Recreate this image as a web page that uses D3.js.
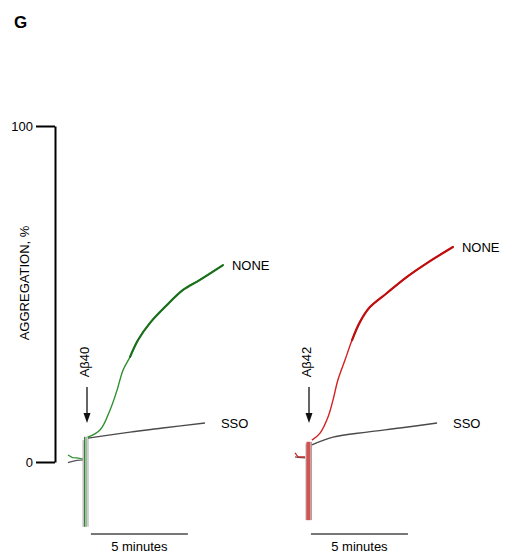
<!DOCTYPE html>
<html>
<head>
<meta charset="utf-8">
<script src="https://cdn.jsdelivr.net/npm/d3@7"></script>
<style>
  body { margin: 0; background: #fff; }
  text { font-family: "Liberation Sans", Arial, sans-serif; }
</style>
</head>
<body>
<script>
// Y axis ticks
const yTicks = [0, 100]

// A-beta 40 panel (time in minutes, 0 = injection; aggregation %)
const a40PreT = [-0.98, -0.75, -0.52, -0.21]
const a40PreNone = [2.1, 1.3, 1.2, 0.9]
const a40PreSso = [-0.2, 0.2, 0.5, 0.6]
const a40SpikeT = [-0.2, -0.13, -0.05, 0.05]
const a40SpikeTop = [6.5, 7.5, 7.5, 7.8]
const a40SpikeLow = [-19.3, -19.3, -19.3, -19.3]
const a40NoneT = [0.05, 0.67, 1.19, 1.55, 1.86, 2.22, 2.63, 3.25, 4.12, 4.95, 5.82, 7.01]
const a40NoneV = [7.4, 9.5, 15.5, 21.4, 27.4, 31.3, 36.3, 41.4, 46.7, 51.2, 54.2, 58.6]
const a40SsoT = [0.05, 2.22, 3.9, 6.08]
const a40SsoV = [7.1, 8.9, 10.1, 11.6]

// A-beta 42 panel
const a42PreT = [-0.72, -0.57, -0.2]
const a42PreNone = [2.7, 1.5, 1.5]
const a42PreSso = [1.5, 1.4, 1.2]
const a42SpikeT = [-0.15, -0.1, -0.05, 0, 0.05, 0.13]
const a42SpikeTop = [5.5, 6.0, 6.0, 6.0, 6.0, 6.0]
const a42SpikeLow = [-17.3, -17.3, -17.3, -17.3, -17.3, -17.3]
const a42NoneT = [0.15, 0.57, 0.98, 1.24, 1.49, 1.86, 2.22, 2.63, 3.14, 4.02, 5.05, 6.08, 7.42]
const a42NoneV = [6.5, 8.6, 13.4, 18.5, 24.4, 30.4, 36.3, 41.7, 46.1, 50.3, 55.1, 59.2, 64.0]
const a42SsoT = [0.15, 1.24, 2.99, 4.69, 6.6]
const a42SsoV = [5.1, 7.4, 8.9, 10.1, 11.6]

const svg = d3.select("body").append("svg")
    .attr("width", 512)
    .attr("height", 554)

svg.append("text")
    .attr("x", 14).attr("y", 28)
    .attr("font-size", 17).attr("font-weight", "bold")
    .text("G")

const yScale = d3.scaleLinear().domain([0, 100]).range([462, 126])

//Y axis
const yAxis = d3.axisLeft(yScale).tickValues(yTicks).tickSize(19).tickSizeOuter(0).tickPadding(3)
const gy = svg.append("g").attr("transform", "translate(55,0)").call(yAxis)
gy.select(".domain").attr("stroke-width", 2)
gy.selectAll(".tick line").attr("stroke-width", 2)
gy.selectAll(".tick text").attr("font-size", 13).attr("fill", "#000")
gy.attr("font-family", null)

svg.append("text")
    .attr("transform", "translate(29,283) rotate(-90)")
    .attr("text-anchor", "middle")
    .attr("font-size", 13)
    .text("AGGREGATION, %")

function panel(opt) {
    const x = d3.scaleLinear().domain([0, 5]).range([opt.x0, opt.x0 + 97])
    const g = svg.append("g")
    const line = d3.line().x(d => x(d[0])).y(d => yScale(d[1]))
    const smooth = d3.line().x(d => x(d[0])).y(d => yScale(d[1])).curve(d3.curveCatmullRom.alpha(0.5))

    // pre-injection baselines
    g.append("path").datum(d3.zip(opt.preT, opt.preSso))
        .attr("d", line).attr("fill", "none").attr("stroke", "#555").attr("stroke-width", 1.2)
    g.append("path").datum(d3.zip(opt.preT, opt.preNone))
        .attr("d", line).attr("fill", "none").attr("stroke", opt.light).attr("stroke-width", 1.2)

    // injection spikes
    opt.spikeT.forEach((t, i) => {
        const grey = i == 0 || i == opt.spikeT.length - 1
        g.append("line")
            .attr("x1", x(t)).attr("x2", x(t))
            .attr("y1", yScale(opt.spikeTop[i])).attr("y2", yScale(opt.spikeLow[i]))
            .attr("stroke", grey ? "#999" : opt.color)
            .attr("stroke-width", 0.9)
    })

    // SSO trace
    g.append("path").datum(d3.zip(opt.ssoT, opt.ssoV))
        .attr("d", smooth).attr("fill", "none")
        .attr("stroke", "#4a4a4a").attr("stroke-width", 1.4)
    // NONE trace: thin during the rise, noisier (thicker) once it bends over
    const none = d3.zip(opt.noneT, opt.noneV)
    g.append("path").datum(none)
        .attr("d", smooth).attr("fill", "none")
        .attr("stroke", opt.light).attr("stroke-width", 1.4)
    g.append("path").datum(none.slice(opt.thickFrom))
        .attr("d", smooth).attr("fill", "none")
        .attr("stroke", opt.color).attr("stroke-width", 2.2)
        .attr("stroke-linecap", "round")

    // series labels
    const lastN = opt.noneT.length - 1
    g.append("text")
        .attr("x", x(opt.noneT[lastN]) + 9).attr("y", yScale(opt.noneV[lastN]) + 5)
        .attr("font-size", 13).text("NONE")
    const lastS = opt.ssoT.length - 1
    g.append("text")
        .attr("x", x(opt.ssoT[lastS]) + 16).attr("y", yScale(opt.ssoV[lastS]) + 5)
        .attr("font-size", 13).text("SSO")

    // arrow + peptide label
    const ax = x(0)
    g.append("line").attr("x1", ax).attr("x2", ax).attr("y1", 387).attr("y2", 414)
        .attr("stroke", "#111").attr("stroke-width", 1.3)
    g.append("path")
        .attr("d", `M${ax - 3.5},413 L${ax + 3.5},413 L${ax},423 Z`).attr("fill", "#111")
    g.append("text")
        .attr("transform", `translate(${ax + 2},362) rotate(-90)`)
        .attr("text-anchor", "middle")
        .attr("font-size", 13).text(opt.label)

    // 5 minute scale bar
    g.append("line")
        .attr("x1", x(opt.barStart)).attr("x2", x(opt.barStart + 5))
        .attr("y1", 534).attr("y2", 534)
        .attr("stroke", "#777").attr("stroke-width", 2)
    g.append("text")
        .attr("x", x(opt.barStart + 2.5)).attr("y", 551)
        .attr("text-anchor", "middle").attr("font-size", 13).text("5 minutes")
}

panel({
    x0: 87, color: "#1b6f1b", light: "#2f8f2f", label: "Aβ40", barStart: 0.2, thickFrom: 5,
    preT: a40PreT, preNone: a40PreNone, preSso: a40PreSso,
    spikeT: a40SpikeT, spikeTop: a40SpikeTop, spikeLow: a40SpikeLow,
    noneT: a40NoneT, noneV: a40NoneV, ssoT: a40SsoT, ssoV: a40SsoV
})
panel({
    x0: 309, color: "#c00d0d", light: "#d42020", label: "Aβ42", barStart: 0.1, thickFrom: 6,
    preT: a42PreT, preNone: a42PreNone, preSso: a42PreSso,
    spikeT: a42SpikeT, spikeTop: a42SpikeTop, spikeLow: a42SpikeLow,
    noneT: a42NoneT, noneV: a42NoneV, ssoT: a42SsoT, ssoV: a42SsoV
})
</script>
</body>
</html>
